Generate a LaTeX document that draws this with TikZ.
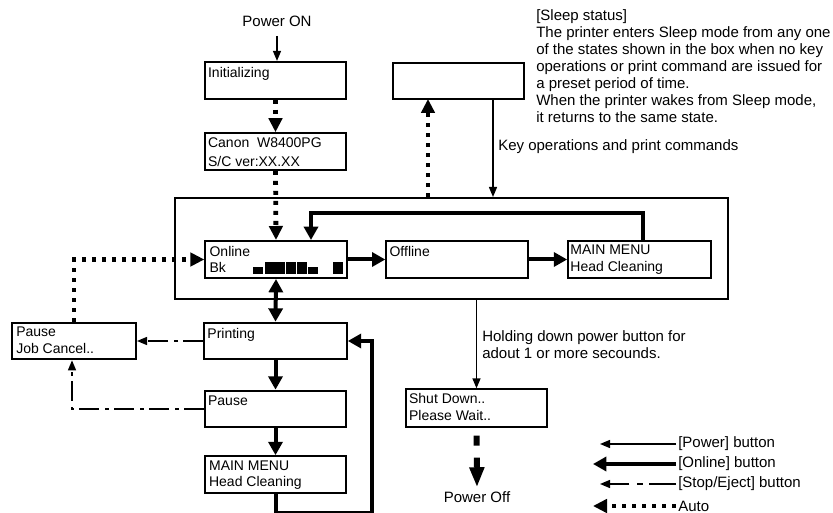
\documentclass[tikz,border=0pt]{standalone}
\usepackage{fontspec}
\setmainfont{Liberation Sans}
\usetikzlibrary{arrows.meta}

\tikzset{
  scr/.style={draw, line width=1.5pt, minimum width=106pt, minimum height=27.5pt, inner sep=0pt},
  scrtxt/.style={anchor=north west, inner sep=0pt, align=left, font=\fontsize{10.5pt}{12.4pt}\selectfont},
  note/.style={inner sep=0pt, align=left, font=\fontsize{11.25pt}{12.75pt}\selectfont},
  pwrline/.style={line width=1.05pt, -{Triangle[length=7.5pt,width=6pt]}},
  onlline/.style={line width=3pt, -{Triangle[length=10pt,width=10.5pt]}},
  stopline/.style={line width=1.05pt, dash pattern=on 15pt off 3.75pt on 3pt off 4.5pt, -{Triangle[length=7.5pt,width=6pt]}},
  autoline/.style={line width=3.6pt, dash pattern=on 3pt off 4.5pt, -{Triangle[length=10.5pt,width=10pt]}}
}

\begin{document}
\begin{tikzpicture}[x=0.75pt,y=0.75pt,yscale=-1,xscale=1]
  \useasboundingbox (0,0) rectangle (833,513);

  %Shape: outer frame of the sleep states
  \node[draw, line width=1.5pt, minimum width=414.75pt, minimum height=75.75pt, inner sep=0pt] (outer) at (451.5,248.5) {};

  %Shape: screens
  \node[scr] (init) at (275.5,80.25) {};
  \node[scr] (canon) at (275.5,151.5) {};
  \node[scr, minimum width=98.25pt] (sleep) at (458.5,81) {};
  \node[scr, minimum height=27.75pt] (online) at (276,259.5) {};
  \node[scr, minimum height=27.75pt] (offline) at (457,259.5) {};
  \node[scr, minimum width=107pt, minimum height=27.75pt] (menu1) at (639.5,259.5) {};
  \node[scr, minimum width=93pt] (pjc) at (74,341) {};
  \node[scr, minimum width=107pt] (printing) at (275.5,341) {};
  \node[scr] (pause) at (275.5,409) {};
  \node[scr] (menu2) at (275.5,474.5) {};
  \node[scr, minimum height=28pt] (shut) at (476.5,408) {};

  % Text Node
  \node[scrtxt] at ([shift={(4,6)}]init.north west) {Initializing};
  \node[scrtxt] at ([shift={(4,5)}]canon.north west) {Canon\ \ W8400PG\\[2pt]S/C ver:XX.XX};
  \node[scrtxt] at ([shift={(5,6)}]online.north west) {Online\\Bk};
  \node[scrtxt] at ([shift={(4,6)}]offline.north west) {Offline};
  \node[scrtxt] at ([shift={(3,5)}]menu1.north west) {MAIN MENU\\Head Cleaning};
  \node[scrtxt] at ([shift={(5,5)}]pjc.north west) {Pause\\Job Cancel..};
  \node[scrtxt] at ([shift={(4,6)}]printing.north west) {Printing};
  \node[scrtxt] at ([shift={(4,6)}]pause.north west) {Pause};
  \node[scrtxt] at ([shift={(5,5)}]menu2.north west) {MAIN MENU\\Head Cleaning};
  \node[scrtxt] at ([shift={(4,5)}]shut.north west) {Shut Down..\\Please Wait..};

  %Shape: ink level bars
  \foreach \xa/\ya in {253/267, 264.5/262, 275.3/262, 286/262, 296.8/262, 308/267, 333/262}
    \fill (\xa,\ya) rectangle (\xa+10,274.3);

  % Text Node
  \node[note, inner sep=3pt] (pon) at (277,21) {Power ON};
  \node[note, inner sep=3pt] (poff) at (477,497) {Power Off};
  \node[note, anchor=north west] (sleepnote) at (536,9) {[Sleep status]\\The printer enters Sleep mode from any one\\of the states shown in the box when no key\\operations or print command are issued for\\a preset period of time.\\When the printer wakes from Sleep mode,\\it returns to the same state.};
  \node[note, anchor=west] (keyops) at (498,147) {Key operations and print commands};
  \node[note, anchor=north west] (holding) at (482,330) {Holding down power button for\\adout 1 or more secounds.};

  %Straight Lines: power up
  \draw[pwrline, shorten <=4pt] (pon.south) -- (pon.south |- init.north);
  \draw[autoline] (init.south) -- (canon.north);
  \draw[autoline] (canon.south) -- (online.north);

  %Straight Lines: sleep
  \coordinate (slpa) at (428,99);
  \coordinate (slpb) at (493,99);
  \draw[autoline] (outer.north -| slpa) -- (slpa);
  \draw[pwrline] (slpb) -- (slpb |- outer.north);

  %Straight Lines: online button
  \draw[onlline] (online.east) -- (offline.west);
  \draw[onlline] (offline.east) -- (menu1.west);
  \draw[onlline] ([xshift=2.25pt]menu1.north) -- ++(0,-27) -| ([xshift=26.25pt]online.north);
  \draw[onlline, {Triangle[length=10pt,width=10.5pt]}-{Triangle[length=10pt,width=10.5pt]}] (online.south) -- (printing.north);
  \draw[onlline] (printing.south) -- (pause.north);
  \draw[onlline] (pause.south) -- (menu2.north);
  \coordinate (back) at (372,513);
  \draw[onlline] (menu2.south) |- (back) |- (printing.east);

  %Straight Lines: stop/eject button
  \draw[stopline] (printing.west) -- (pjc.east);
  \draw[stopline] (pause.west) -| ([xshift=-1.5pt]pjc.south);
  \draw[autoline] (pjc.north) |- (online.west);

  %Straight Lines: power off
  \draw[pwrline] (shut.north |- outer.south) -- (shut.north);
  \draw[autoline, line width=4.5pt, dash pattern=on 7.5pt off 9pt, dash phase=10.5pt, -{Triangle[length=15pt,width=10.5pt]}] (shut.south) -- (poff.north);

  %Legend
  \node[note, anchor=west, inner sep=1.5pt] (lg1) at (676,444) {[Power] button};
  \node[note, anchor=west, inner sep=1.5pt] (lg2) at (676,464) {[Online] button};
  \node[note, anchor=west, inner sep=1.5pt] (lg3) at (676,484) {[Stop/Eject] button};
  \node[note, anchor=west, inner sep=1.5pt] (lg4) at (676,506) {Auto};
  \coordinate (lg1e) at (600,444);
  \coordinate (lg2e) at (593,464);
  \coordinate (lg3e) at (600,484);
  \coordinate (lg4e) at (593,506);
  \draw[pwrline] (lg1.west) -- (lg1e);
  \draw[onlline] (lg2.west) -- (lg2e);
  \draw[stopline, dash pattern=on 20pt off 5pt on 4pt off 6pt] (lg3.west) -- (lg3e);
  \draw[autoline] (lg4.west) -- (lg4e);
\end{tikzpicture}
\end{document}
